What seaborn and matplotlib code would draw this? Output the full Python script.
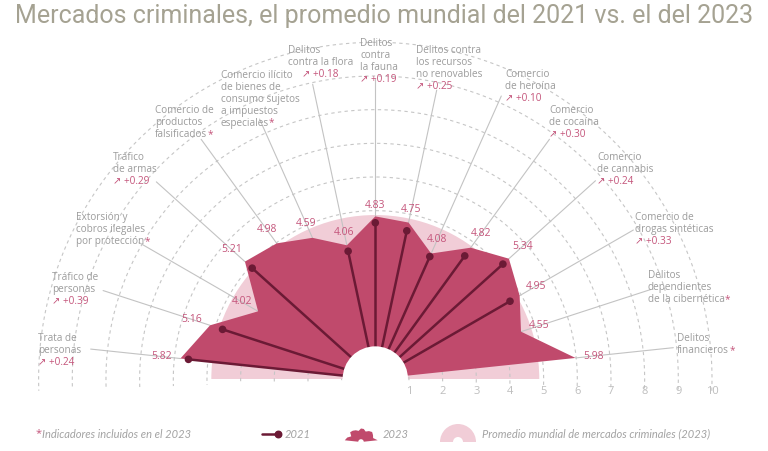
import numpy as np
import pandas as pd
import matplotlib
matplotlib.use('Agg')
import matplotlib.pyplot as plt
import seaborn as sns
from matplotlib import font_manager
from matplotlib.patches import Wedge, Polygon, Circle

# --- datos ---
categorias = ['Trata de personas', 'Tráfico de personas', 'Extorsión y cobros ilegales por protección',
              'Tráfico de armas', 'Comercio de productos falsificados',
              'Comercio ilícito de bienes de consumo sujetos a impuestos especiales',
              'Delitos contra la flora', 'Delitos contra la fauna',
              'Delitos contra los recursos no renovables', 'Comercio de heroína',
              'Comercio de cocaína', 'Comercio de cannabis', 'Comercio de drogas sintéticas',
              'Delitos dependientes de la cibernética', 'Delitos financieros']
etiquetas = ['Trata de\npersonas', 'Tráfico de\npersonas', 'Extorsión y\ncobros ilegales\npor protección',
             'Tráfico\nde armas', 'Comercio de\nproductos\nfalsificados',
             'Comercio ilícito\nde bienes de\nconsumo sujetos\na impuestos\nespeciales',
             'Delitos\ncontra la flora', 'Delitos\ncontra\nla fauna',
             'Delitos contra\nlos recursos\nno renovables', 'Comercio\nde heroína',
             'Comercio\nde cocaína', 'Comercio\nde cannabis', 'Comercio de\ndrogas sintéticas',
             'Delitos\ndependientes\nde la cibernética', 'Delitos\nfinancieros']
valores_2023 = [5.82, 5.16, 4.02, 5.21, 4.98, 4.59, 4.06, 4.83, 4.75, 4.08, 4.82, 5.34, 4.95, 4.55, 5.98]
cambio = [0.24, 0.39, None, 0.29, None, None, 0.18, 0.19, 0.25, 0.10, 0.30, 0.24, 0.33, None, None]
promedio_mundial = 4.87
escala = list(range(1, 11))

# --- estilo ---
sns.set_theme(style='white')
plt.rcParams['font.family'] = ['Open Sans', 'DejaVu Sans']
nombres = {f.name for f in font_manager.fontManager.ttflist}
fuente_titulo = 'Liberation Sans Narrow' if 'Liberation Sans Narrow' in nombres else 'Roboto'

ROJO = '#c04a6c'
ROSA = '#f1cdd7'
VINO = '#6b1a35'
TXT_ROSA = '#c4557b'
GRIS = '#9c9c9c'

W, H = 768, 451
CX, CY, S = 375.3, 379.0, 33.67   # centro (px) y px por unidad

fig = plt.figure(figsize=(W / 100, H / 100), dpi=100)
ax = fig.add_axes([0, 0, 1, 1])
ax.set_xlim(-CX / S, (W - CX) / S)
ax.set_ylim((CY - H) / S, CY / S)
ax.axis('off')


def px(x, y):
    return (x - CX) / S, (CY - y) / S


n = len(categorias)
theta = np.deg2rad(180 - (np.arange(n) + 0.5) * 180 / n)
v23 = np.array(valores_2023)

# promedio mundial
ax.add_patch(Wedge((0, 0), promedio_mundial, 0, 180, fc=ROSA, ec='none', zorder=1))

# rejilla
t = np.deg2rad(np.linspace(-2, 182, 300))
for r in escala:
    ax.plot(r * np.cos(t), r * np.sin(t), color='#c6c6c6', lw=0.8, ls=(0, (3, 3)), zorder=2)
    xl, yl = px(0, 391)
    ax.text(r, yl, str(r), ha='center', va='center', color='#bdbdbd', fontsize=8, zorder=8)

# etiquetas: radio final del conector, desplazamiento del bloque (px), desplazamiento de la linea de cambio
layout = [(8.5, -53, -17, 0), (8.5, -51, -19, 0), (8.1, -63, -31, 0), (8.75, -43, -30, 0),
          (8.8, -46, -35, 0), (8.45, -39, -50, 0), (8.95, -25, -40, 14), (8.9, -15, -42, 0),
          (8.77, -21, -46, 0), (9.2, 4, -28, 0), (8.8, 0, -35, 0), (8.8, 2, -29, 0),
          (8.85, 2, -19, 0), (8.6, -3, -20, 0), (8.9, 4, -15, 0)]

renderer = fig.canvas.get_renderer()
LH = 12.0  # alto de linea en px

for i in range(n):
    r_end, dx, dy, dxc = layout[i]
    c, s_ = np.cos(theta[i]), np.sin(theta[i])
    ax.plot([v23[i] * c, r_end * c], [v23[i] * s_, r_end * s_], color='#c3c3c3', lw=0.8, zorder=2)
    x0 = r_end * c + dx / S
    y_top = r_end * s_ - dy / S
    lineas = etiquetas[i].split('\n')
    for k, linea in enumerate(lineas):
        yk = y_top - (6 + LH * k) / S
        tt = ax.text(x0, yk, linea, ha='left', va='center', color=GRIS, fontsize=7.2)
        if k == len(lineas) - 1 and cambio[i] is None:
            bb = tt.get_window_extent(renderer)
            ax.text((bb.x1 - CX) / S, yk, '*', ha='left', va='center', color=TXT_ROSA, fontsize=7.2)
    if cambio[i] is not None:
        yk = y_top - (6 + LH * len(lineas)) / S
        ax.text(x0 + dxc / S, yk, '↗ +%.2f' % cambio[i], ha='left', va='center', color=TXT_ROSA, fontsize=7.2)

# 2023
pts = np.column_stack([v23 * np.cos(theta), v23 * np.sin(theta)])
ax.add_patch(Polygon(np.vstack([[0, 0], pts, [0, 0]]), closed=True, fc=ROJO, ec='none', zorder=3))

# 2021 = 2023 - cambio
filas = []
for i in range(n):
    if cambio[i] is None:
        continue
    v21 = valores_2023[i] - cambio[i]
    filas.append({'cat': categorias[i], 'paso': 0, 'x': 0.0, 'y': 0.0})
    filas.append({'cat': categorias[i], 'paso': 1, 'x': v21 * np.cos(theta[i]), 'y': v21 * np.sin(theta[i])})
df21 = pd.DataFrame(filas)
sns.lineplot(data=df21, x='x', y='y', units='cat', estimator=None, sort=False,
             color=VINO, lw=1.8, ax=ax, zorder=4, legend=False)
puntas = df21[df21['paso'] == 1]
sns.scatterplot(data=puntas, x='x', y='y', color=VINO, s=30, edgecolor='none', ax=ax, zorder=5, legend=False)
ax.set_xlabel('')
ax.set_ylabel('')

# hueco central
ax.add_patch(Circle((0, 0), 0.97, fc='white', ec='none', zorder=6))

# valores 2023
for i in range(n):
    c, s_ = np.cos(theta[i]), np.sin(theta[i])
    off = (6 + 12 * abs(c) + 5 * abs(s_)) / S
    ax.text(v23[i] * c + off * c, v23[i] * s_ + off * s_, '%.2f' % v23[i],
            ha='center', va='center', color=TXT_ROSA, fontsize=7.5, zorder=7)

# titulo
fig.text(0.5, 1 - 16 / H, 'Mercados criminales, el promedio mundial del 2021 vs. el del 2023',
         ha='center', va='center', color='#a5a292', fontsize=18, family=[fuente_titulo, 'DejaVu Sans'])

# leyenda inferior
ley = dict(color='#a3a3a3', fontsize=8, style='italic', family=['Lato', 'DejaVu Sans'], va='center')
ya = 434
xa, ya_d = px(36, ya)
ta = ax.text(xa, ya_d, '*', color=TXT_ROSA, fontsize=8, va='center', ha='left')
bb = ta.get_window_extent(renderer)
ax.text((bb.x1 - CX) / S, ya_d, 'Indicadores incluidos en el 2023', ha='left', **ley)

a, b = px(262, ya), px(278, ya)
ax.plot([a[0], b[0]], [a[1], b[1]], color=VINO, lw=1.8)
ax.scatter([b[0]], [b[1]], color=VINO, s=22, zorder=5)
ax.text(*px(285, ya), '2021', ha='left', **ley)

cx_i, cy_i = px(361, 442)
k = 2.8 / S
mini = np.column_stack([cx_i + v23 * k * np.cos(theta), cy_i + v23 * k * np.sin(theta)])
ax.add_patch(Polygon(np.vstack([[cx_i, cy_i], mini, [cx_i, cy_i]]), closed=True, fc=ROJO, ec='none'))
ax.add_patch(Wedge((cx_i, cy_i), 2.8 / S, 0, 180, fc='white', ec='none'))
ax.text(*px(383, ya), '2023', ha='left', **ley)

cx_p, cy_p = px(458, 442)
ax.add_patch(Wedge((cx_p, cy_p), 18 / S, 0, 180, fc=ROSA, ec='none'))
ax.add_patch(Wedge((cx_p, cy_p), 5 / S, 0, 180, fc='white', ec='none'))
ax.text(*px(482, ya), 'Promedio mundial de mercados criminales (2023)', ha='left', **ley)

fig.savefig('out.png', dpi=100)
